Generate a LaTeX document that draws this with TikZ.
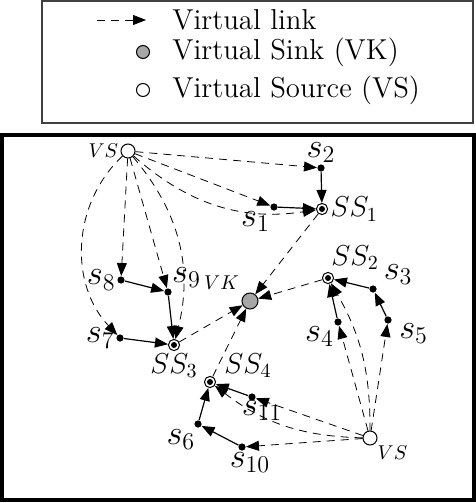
\documentclass[tikz,border=0pt]{standalone}
\usepackage{amsmath,amssymb}
\usepackage{xcolor}
\usepackage{tikz}
\usetikzlibrary{arrows.meta,positioning,calc}
\tikzset{
  sensor/.style ={circle,fill=black,minimum size=3.6pt,inner sep=0pt},
  subsink/.style={circle,draw,line width=0.5pt,minimum size=5.6pt,inner sep=0pt,
                  path picture={\fill (path picture bounding box.center) circle (1.5pt);}},
  vsource/.style={circle,draw,line width=0.5pt,fill=white,minimum size=7pt,inner sep=0pt},
  vsink/.style  ={circle,draw,line width=0.5pt,fill=gray!70,minimum size=8pt,inner sep=0pt},
  lbl/.style    ={font=\LARGE,inner sep=0.5pt},
  sslbl/.style  ={font=\Large,inner sep=1pt},
  vlbl/.style   ={font=\normalsize,inner sep=1pt},
  link/.style   ={line width=0.6pt,-{Triangle[length=6.5pt,width=5pt]}},
  vlink/.style  ={line width=0.4pt,dash pattern=on 4pt off 3pt,-{Triangle[length=6.5pt,width=5pt]}},
  legtext/.style={font=\Large,anchor=west,inner sep=0pt},
}

\begin{document}
\begin{tikzpicture}[x=0.5pt,y=-0.5pt]
  \useasboundingbox (0,0) rectangle (476,503);
  % legend
  \draw[line width=0.6pt,black!75] (42,1) rectangle (473,123);
  \coordinate (lega) at (97,20);
  \coordinate (legb) at (146,20);
  \draw[vlink] (lega) -- (legb);
  \node[vsink,minimum size=6.5pt]   (legvk) at (143,52) {};
  \node[vsource,minimum size=6.5pt] (legvs) at (143,90) {};
  \node[legtext] (legt1) at (172,20) {Virtual link};
  \node[legtext] (legt2) at (172,52) {Virtual Sink (VK)};
  \node[legtext] (legt3) at (172,90) {Virtual Source (VS)};
  % frame
  \draw[line width=2pt] (2,135) rectangle (474,500);

  % virtual sink and sources
  \node[vsink,label={[vlbl,label distance=2pt]above left:$VK$}]   (VK)  at (250,301) {};
  \node[vsource,label={[vlbl]left:$VS$}]                          (VSa) at (128,151) {};
  \node[vsource,label={[vlbl]below right:$VS$}]                   (VSb) at (370,438) {};
  % sub-sinks
  \node[subsink,label={[sslbl]right:$SS_1$}]                      (SS1) at (322,209) {};
  \node[subsink,label={[sslbl]80:$SS_2$}]                         (SS2) at (328,278) {};
  \node[subsink,label={[sslbl]below:$SS_3$}]                      (SS3) at (174,345) {};
  \node[subsink,label={[sslbl,label distance=3pt]10:$SS_4$}]      (SS4) at (210,382) {};
  % sensors
  \node[sensor,label={[lbl]below left:$s_1$}]                     (s1)  at (274,207) {};
  \node[sensor,label={[lbl]above:$s_2$}]                          (s2)  at (321,168) {};
  \node[sensor,label={[lbl,label distance=3pt]20:$s_3$}]          (s3)  at (373,289) {};
  \node[sensor,label={[lbl]below left:$s_4$}]                     (s4)  at (338,322) {};
  \node[sensor,label={[lbl,label distance=3pt]-10:$s_5$}]         (s5)  at (388,320) {};
  \node[sensor,label={[lbl]-110:$s_6$}]                           (s6)  at (198,424) {};
  \node[sensor,label={[lbl]left:$s_7$}]                           (s7)  at (120,338) {};
  \node[sensor,label={[lbl]left:$s_8$}]                           (s8)  at (121,280) {};
  \node[sensor,label={[lbl]above right:$s_9$}]                    (s9)  at (168,292) {};
  \node[sensor,label={[lbl,xshift=4pt]below:$s_{10}$}]            (s10) at (242,447) {};
  \node[sensor,label={[lbl,xshift=5pt,yshift=1pt]below:$s_{11}$}] (s11) at (252,397) {};

  % real links
  \draw[link] (s2) -- (SS1);
  \draw[link] (s1) -- (SS1);
  \draw[link] (s8) -- (s9);
  \draw[link] (s9) -- (SS3);
  \draw[link] (s7) -- (SS3);
  \draw[link] (s5) -- (s3);
  \draw[link] (s3) -- (SS2);
  \draw[link] (s4) -- (SS2);
  \draw[link] (s10) -- (s6);
  \draw[link] (s6) -- (SS4);
  \draw[link] (s11) -- (SS4);

  % virtual links from the first source
  \draw[vlink] (VSa) -- (s2);
  \draw[vlink] (VSa) -- (s1);
  \draw[vlink] (VSa) to[bend right=25] (SS1);
  \draw[vlink] (VSa) -- (s8);
  \draw[vlink] (VSa) -- (s9);
  \draw[vlink] (VSa) to[bend left=27] (SS3);
  \draw[vlink] (VSa) to[bend right=45] (s7);
  % virtual links from the second source
  \draw[vlink] (VSb) -- (s4);
  \draw[vlink] (VSb) to[bend right=15] (SS2);
  \draw[vlink] (VSb) -- (s5);
  \draw[vlink] (VSb) -- (s11);
  \draw[vlink] (VSb) to[bend left=18] (SS4);
  \draw[vlink] (VSb) -- (s10);
  % sub-sinks to the virtual sink
  \draw[vlink] (SS1) -- (VK);
  \draw[vlink] (SS2) -- (VK);
  \draw[vlink] (SS3) -- (VK);
  \draw[vlink] (SS4) -- (VK);
\end{tikzpicture}
\end{document}
